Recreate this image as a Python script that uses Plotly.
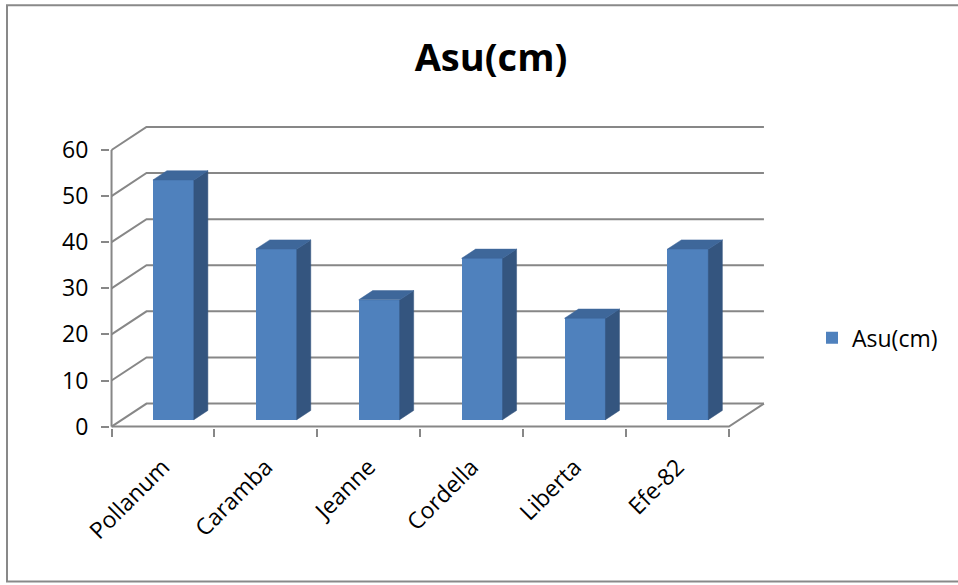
import plotly.graph_objects as go

# ---- data -------------------------------------------------------------
varieties = ["Pollanum", "Caramba", "Jeanne", "Cordella", "Liberta", "Efe-82"]
asu_cm = [52, 37, 26, 35, 22, 37]
value_ticks = [0, 10, 20, 30, 40, 50, 60]
series_name = "Asu(cm)"

# ---- pseudo 3-D geometry (in data units) ------------------------------
DEPTH_X = 0.34      # horizontal shift of the back wall (category units)
DEPTH_Y = 5.0       # vertical shift of the back wall (value units)
BAR_FRONT, BAR_BACK = 0.3, 0.7   # bar depth span (fraction of floor depth)
BAR_HALF = 0.2      # half bar width (category units)

FRONT_COLOR = "#4F81BD"
SIDE_COLOR = "#34557F"
TOP_COLOR = "#3E679A"
GRID_COLOR = "#878787"
FONT = "Open Sans"
TEXT_SIZE = 23

n = len(varieties)
x_left, x_right = -0.5, n - 0.5
x_range = [-0.515, x_right + DEPTH_X + 0.02]
y_range = [-0.3, value_ticks[-1] + DEPTH_Y + 0.2]


def proj(c, v, d):
    """Project (category, value, depth) onto the flat axes."""
    return c + d * DEPTH_X, v + d * DEPTH_Y


# walls and floor as shapes underneath the bars
shapes = []
for v in value_ticks:
    p0 = proj(x_left, v, 0)
    p1 = proj(x_left, v, 1)
    p2 = proj(x_right, v, 1)
    shapes.append(dict(type="path", xref="x", yref="y", layer="below",
                       path=f"M{p0[0]},{p0[1]} L{p1[0]},{p1[1]} L{p2[0]},{p2[1]}",
                       line=dict(color=GRID_COLOR, width=2)))
f0 = proj(x_left, 0, 0)
f1 = proj(x_right, 0, 0)
f2 = proj(x_right, 0, 1)
shapes.append(dict(type="path", xref="x", yref="y", layer="below",
                   path=f"M{f0[0]},{f0[1]} L{f1[0]},{f1[1]} L{f2[0]},{f2[1]}",
                   line=dict(color=GRID_COLOR, width=2)))
a1 = proj(x_left, value_ticks[-1], 0)
shapes.append(dict(type="line", xref="x", yref="y", layer="below",
                   x0=f0[0], y0=f0[1], x1=a1[0], y1=a1[1],
                   line=dict(color=GRID_COLOR, width=2)))

# outer chart frame
W, H = 958, 585
ML, MR, MT, MB = 110, 192, 126, 156.6
pw, ph = W - ML - MR, H - MT - MB


def px_to_paper(px, py):
    return (px - ML) / pw, (H - MB - py) / ph


bl = px_to_paper(7, 582)
tr = px_to_paper(970, 5)
shapes.append(dict(type="rect", xref="paper", yref="paper",
                   x0=bl[0], y0=bl[1], x1=tr[0], y1=tr[1],
                   line=dict(color="#898989", width=2), fillcolor="rgba(0,0,0,0)"))

fig = go.Figure()

# front faces of the bars
fig.add_trace(go.Bar(
    x=[i + BAR_FRONT * DEPTH_X for i in range(n)],
    y=asu_cm,
    base=BAR_FRONT * DEPTH_Y,
    width=2 * BAR_HALF,
    marker=dict(color=FRONT_COLOR, line=dict(width=0)),
    name=series_name,
    showlegend=True,
))

# side and top faces
side_x, side_y, top_x, top_y = [], [], [], []
for i, v in enumerate(asu_cm):
    r = i + BAR_HALF
    l = i - BAR_HALF
    for pt in [proj(r, 0, BAR_FRONT), proj(r, 0, BAR_BACK),
               proj(r, v, BAR_BACK), proj(r, v, BAR_FRONT), proj(r, 0, BAR_FRONT)]:
        side_x.append(pt[0] - 0.002); side_y.append(pt[1])
    side_x.append(None); side_y.append(None)
    for pt in [proj(l, v, BAR_FRONT), proj(r, v, BAR_FRONT),
               proj(r, v, BAR_BACK), proj(l, v, BAR_BACK), proj(l, v, BAR_FRONT)]:
        top_x.append(pt[0]); top_y.append(pt[1])
    top_x.append(None); top_y.append(None)

fig.add_trace(go.Scatter(x=side_x, y=side_y, mode="lines", fill="toself",
                         fillcolor=SIDE_COLOR, line=dict(color=SIDE_COLOR, width=0.5),
                         showlegend=False, hoverinfo="skip"))
fig.add_trace(go.Scatter(x=top_x, y=top_y, mode="lines", fill="toself",
                         fillcolor=TOP_COLOR, line=dict(color=TOP_COLOR, width=0.5),
                         showlegend=False, hoverinfo="skip"))

# invisible trace so the tick-mark axis is drawn
fig.add_trace(go.Scatter(x=[x_left], y=[0], xaxis="x2", mode="markers",
                         marker=dict(opacity=0), showlegend=False, hoverinfo="skip"))

legend_pos = px_to_paper(812, 338)

fig.update_layout(
    width=W, height=H,
    margin=dict(l=ML, r=MR, t=MT, b=MB, pad=0),
    paper_bgcolor="white", plot_bgcolor="white",
    font=dict(family=FONT, size=TEXT_SIZE, color="#000000"),
    title=dict(text="<b>Asu(cm)</b>", font=dict(family=FONT, size=38, color="#000000"),
               xref="container", yref="container",
               x=491 / W, y=1 - 58 / H, xanchor="center", yanchor="middle"),
    bargap=0,
    xaxis=dict(range=x_range, tickmode="array", tickvals=list(range(n)),
               ticktext=varieties, tickangle=-45, ticks="", showgrid=False,
               zeroline=False, showline=False, ticklabelstandoff=20,
               tickfont=dict(family=FONT, size=TEXT_SIZE, color="#000000")),
    xaxis2=dict(range=x_range, overlaying="x", anchor="y", side="bottom",
                tickmode="array", tickvals=[x_left + k for k in range(n + 1)],
                ticks="outside", ticklen=8, tickwidth=2, tickcolor=GRID_COLOR,
                showticklabels=False, showgrid=False, zeroline=False, showline=False),
    yaxis=dict(range=y_range, tickmode="array", tickvals=value_ticks,
               ticks="outside", ticklen=8, tickwidth=2, tickcolor=GRID_COLOR,
               showgrid=False, zeroline=False, showline=False, ticklabelstandoff=8,
               tickfont=dict(family=FONT, size=TEXT_SIZE, color="#000000")),
    legend=dict(x=legend_pos[0], y=legend_pos[1], xanchor="left", yanchor="middle",
                font=dict(family=FONT, size=TEXT_SIZE, color="#000000"),
                bgcolor="rgba(0,0,0,0)"),
    shapes=shapes,
)

fig.write_html("out.html")
